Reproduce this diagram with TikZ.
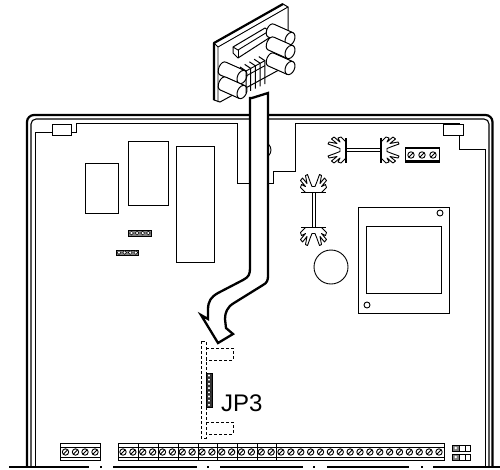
\documentclass[tikz,border=0pt]{standalone}
\usepackage{fontspec}
\setmainfont{Liberation Sans}
\tikzset{
  thin line/.style={draw=black,line width=0.9pt},
  part/.style={draw=black,line width=1pt,fill=white},
  dash box/.style={draw=black,line width=1pt,dash pattern=on 3pt off 2pt},
  frame line/.style={draw=black,line width=1.1pt,rounded corners=5pt},
  heavy line/.style={draw=black,line width=2.2pt,rounded corners=7pt},
  label text/.style={font=\fontsize{24}{24}\selectfont,inner sep=0pt,anchor=base west}
}
\newcommand{\capa}[2]{%
  \begin{scope}[shift={(#1,#2)},rotate=-24]
    \path[part,line width=1pt] (-21,-7) arc[start angle=90,end angle=270,x radius=4,y radius=-7] -- (0,7) -- (0,-7) -- cycle;
    \draw[part,line width=1pt] (0,0) ellipse[x radius=4.5,y radius=7];
  \end{scope}}
\newcommand{\fins}[3]{%
  \begin{scope}[shift={(#1,#2)},rotate=#3]
    \draw[part,line width=0.9pt,line join=round] (-8,0) -- (-13,-5) -- (-12,-8) -- (-8,-6) -- (-13,-12) -- (-11,-14.5) -- (-6.5,-9) -- (-8,-17) -- (-6,-18) -- (-3.5,-11) -- (-1.5,-6) -- (0,-6) -- (1.5,-6) -- (3.5,-11) -- (6,-18) -- (8,-17) -- (6.5,-9) -- (11,-14.5) -- (13,-12) -- (8,-6) -- (12,-8) -- (13,-5) -- (8,0);
    \draw[draw=black,line width=1.8pt] (-12.5,0) -- (12.5,0);
  \end{scope}}
\newcommand{\screw}[2]{%
  \draw[thin line] (#1,#2) circle[radius=3.2];
  \draw[thin line] (#1-2,#2+2) -- (#1+2,#2-2);}
\begin{document}
\begin{tikzpicture}[x=1pt,y=-1pt]
\useasboundingbox (0,0) rectangle (500,469);
% enclosure
\draw[heavy line] (27,466) -- (27,115) -- (492.5,115) -- (492.5,466);
\draw[frame line] (31,466) -- (31,119) -- (489,119) -- (489,466);
\draw[thin line] (35,466) -- (35,132) -- (76,132) -- (76,123) -- (237,123) -- (237,183) -- (273,183) -- (273,171) -- (295,171) -- (295,123) -- (459,123) -- (459,149) -- (485,149) -- (485,466);
\draw[part] (52,124) rectangle (71,135);
\draw[part] (443,124) rectangle (463,135);
% bottom edge
\foreach \a/\b in {9/89,113/197,220/303,327/409,433/500}
  \draw[draw=black,line width=1.4pt] (\a,467) -- (\b,467);
\foreach \a in {101,208,314,422}
  \draw[draw=black,line width=1.4pt] (\a,466) -- (\a,468);
% chips
\draw[part] (85,163) rectangle (118,213);
\draw[part] (128,141) rectangle (168,205);
\draw[part] (176,146) rectangle (214,262);
% small headers
\draw[part,fill=black!50] (128,230) rectangle (151,236);
\draw[part,fill=black!50] (116,250) rectangle (138,255);
\foreach \i in {0,1,2,3} {
  \draw[draw=black,fill=white,line width=0.5pt] (131.5+5.6*\i,233) circle[radius=1.9];
  \draw[draw=black,fill=white,line width=0.5pt] (119+5.6*\i,252.5) circle[radius=1.9];
}
% hidden round part behind ribbon
\draw[thin line] (263,150) circle[radius=8];
% heat sinks
\draw[thin line] (346,148) -- (381,148);
\draw[thin line] (346,151.5) -- (381,151.5);
\fins{346}{150}{90}
\fins{381}{150}{-90}
\draw[thin line] (312,193) -- (312,228);
\draw[thin line] (315,193) -- (315,228);
\fins{313.5}{192.5}{0}
\fins{313.5}{227.5}{180}
% three way terminal
\draw[part] (405,147) rectangle (439,162);
\draw[draw=black,line width=1.6pt] (405,148) -- (439,148);
\draw[draw=black,line width=1.6pt] (405,161) -- (439,161);
\foreach \x in {411,422,433} \screw{\x}{155}
% transformer
\draw[part] (358,207) rectangle (449,313);
\draw[part] (366,226) rectangle (441,293);
\draw[thin line] (440,213) circle[radius=3];
\draw[thin line] (367,305) circle[radius=3];
\draw[thin line] (331,267) circle[radius=17];
% bottom terminals
\draw[part] (60,443) rectangle (100,460);
\draw[thin line] (60,447) -- (100,447);
\draw[thin line] (60,457) -- (100,457);
\foreach \x in {65.5,75.5,85,95} \screw{\x}{452}
\draw[part] (118,443) rectangle (444,460);
\draw[thin line] (118,447) -- (444,447);
\draw[thin line] (118,457) -- (444,457);
\foreach \x in {138,158,178,198,217,237,257,276}
  \draw[thin line] (\x,443) -- (\x,460);
\foreach \i in {0,...,32} \screw{123+9.875*\i}{452}
% small connector
\draw[part] (452,445) rectangle (470,451);
\draw[part] (452,454) rectangle (470,460);
\foreach \y in {445,454} {
  \draw[draw=black,fill=black!50,line width=0.7pt] (452,\y) rectangle (459.5,\y+6);
  \draw[thin line] (465,\y) -- (465,\y+6);
  \fill[white] (455.7,\y+3) circle[radius=1.4];
}
% JP3 zone
\draw[dash box] (201,341) rectangle (206,438);
\draw[dash box] (206,348) -- (233,348) -- (233,360) -- (206,360);
\draw[dash box] (206,422) -- (233,422) -- (233,434) -- (206,434);
\draw[draw=black,fill=black!80,line width=0.8pt] (206,373) rectangle (212,407);
\foreach \i in {0,...,7}
  \draw[draw=black,fill=white,line width=0.4pt] (209,375.5+4.2*\i) circle[radius=1.8];
\node[label text] (jp3) at (221,411) {JP3};
% ribbon arrow
\draw[draw=black,fill=white,line width=2.3pt,line join=miter]
  (252,98) -- (268,93) -- (268,276)
  .. controls (268,280) and (267,283) .. (263,285)
  -- (234,303)
  .. controls (227,307) and (225,313) .. (225,319)
  -- (226,328) -- (233,334) -- (218,343) -- (201,315) -- (208,319)
  -- (208,310)
  .. controls (208,301) and (211,297) .. (218,293)
  -- (243,280)
  .. controls (249,277) and (250,274) .. (250,268)
  -- (250,98) -- cycle;
% module
\draw[part] (214,43) -- (283,4) -- (288,7) -- (288,65) -- (220,102) -- (214,100) -- cycle;
\draw[draw=black,line width=2.2pt,line join=round] (214,100) -- (214,43) -- (283,4);
\draw[thin line] (218,47) -- (288,7);
\draw[thin line] (214,43) -- (218,47) -- (218,102);
\draw[part,line join=round] (233,47) -- (265,28) -- (269,31) -- (269,38) -- (238,58) -- (233,53) -- cycle;
\draw[thin line] (233,47) -- (238,50) -- (269,31);
\draw[thin line] (238,50) -- (238,58);
\capa{290}{39}
\capa{290}{52}
\capa{290}{68}
\capa{242}{77}
\capa{242}{92}
\foreach \i in {0,...,4} {
  \draw[draw=black,line width=1pt] (240+4.7*\i,67-2.6*\i) -- (246+4.7*\i,71-2.6*\i) -- (246+4.7*\i,93-2.2*\i);
}
\draw[thin line] (246,71) -- (265,60.6);
\draw[thin line] (246,76) -- (265,65.6);
\end{tikzpicture}
\end{document}
